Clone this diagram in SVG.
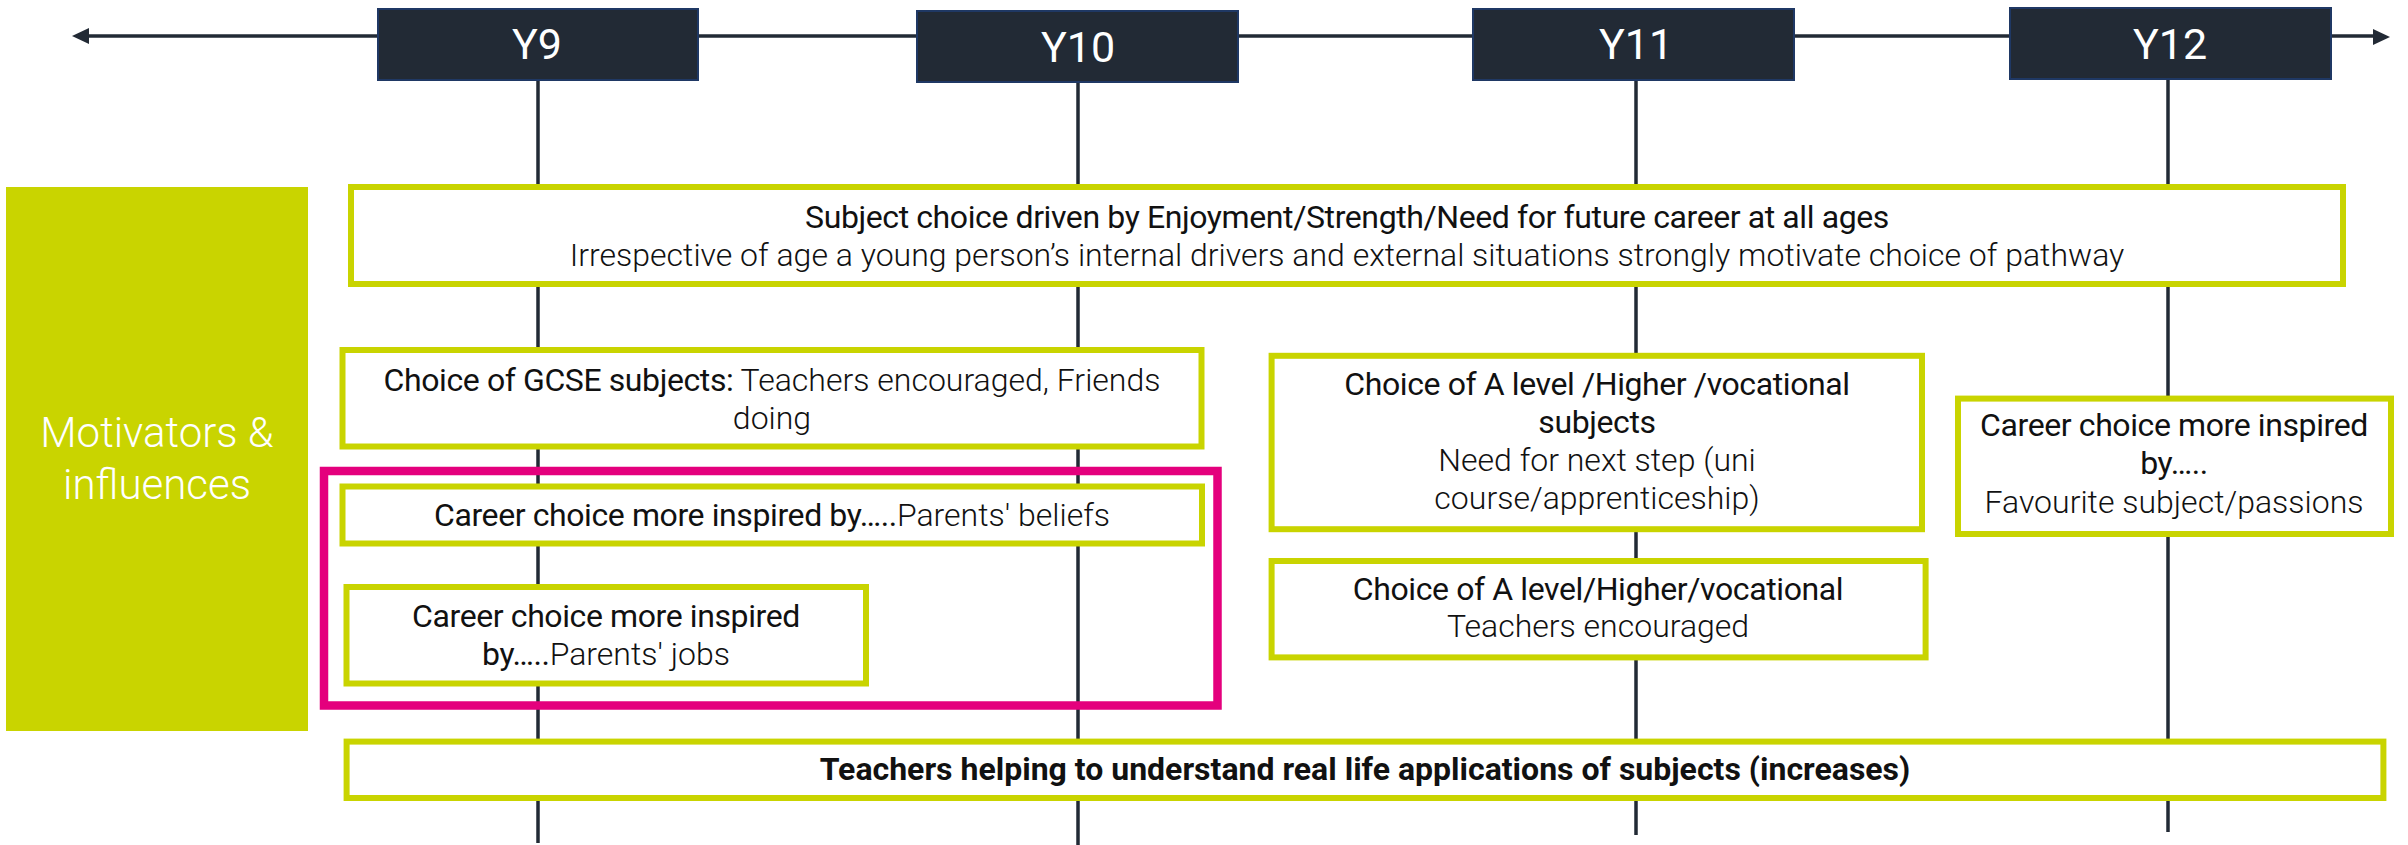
<svg xmlns="http://www.w3.org/2000/svg" width="2408" height="845" viewBox="0 0 2408 845">
<style>
.bg{fill:#ffffff}
.tl{stroke:#222a35;stroke-width:3.5;fill:none}
.yr{fill:#222a35;stroke:#1f3864;stroke-width:2}
.yt{font-family:Roboto,"Liberation Sans",sans-serif;font-size:43px;fill:#ffffff;text-anchor:middle}
.gb{fill:#ffffff;stroke:#c9d400;stroke-width:6}
.pk{fill:none;stroke:#e4007d;stroke-width:8.5}
.t{font-family:Roboto,"Liberation Sans",sans-serif;font-size:32px;fill:#111111;text-anchor:middle}
.r{font-weight:400;letter-spacing:-0.4px}
.l{font-weight:300}
.b{font-weight:700}
.mt{font-family:Roboto,"Liberation Sans",sans-serif;font-size:42px;font-weight:300;fill:#ffffff;text-anchor:middle}
</style>
<rect class="bg" x="0" y="0" width="2408" height="845"/>
<g id="connectors">
<line class="tl" x1="86" y1="36" x2="2376" y2="36"/>
<polygon points="72,36 89,28 89,44" fill="#222a35"/>
<polygon points="2390,37 2373,29 2373,45" fill="#222a35"/>
<line class="tl" x1="538" y1="80" x2="538" y2="843"/>
<line class="tl" x1="1078" y1="80" x2="1078" y2="845"/>
<line class="tl" x1="1636" y1="80" x2="1636" y2="835"/>
<line class="tl" x1="2168" y1="80" x2="2168" y2="832"/>
</g>
<g id="y9"><rect class="yr" x="378" y="9" width="320" height="71"/><text class="yt" x="537" y="59">Y9</text></g>
<g id="y10"><rect class="yr" x="917" y="11" width="321" height="71"/><text class="yt" x="1078" y="62">Y10</text></g>
<g id="y11"><rect class="yr" x="1473" y="9" width="321" height="71"/><text class="yt" x="1636" y="59">Y11</text></g>
<g id="y12"><rect class="yr" x="2010" y="8" width="321" height="71"/><text class="yt" x="2170" y="59">Y12</text></g>
<g id="motivators"><rect x="6" y="187" width="302" height="544" fill="#c9d400"/>
<text class="mt" x="157" y="447">Motivators &amp;</text><text class="mt" x="157" y="499">influences</text></g>
<g id="subject-choice"><rect class="gb" x="351" y="187" width="1992" height="97"/>
<text class="t r" x="1347" y="228">Subject choice driven by Enjoyment/Strength/Need for future career at all ages</text>
<text class="t l" x="1347" y="266">Irrespective of age a young person’s internal drivers and external situations strongly motivate choice of pathway</text></g>
<g id="gcse"><rect class="gb" x="342.5" y="350" width="859" height="96.5"/>
<text class="t" x="772" y="391"><tspan class="r">Choice of GCSE subjects:</tspan><tspan class="l"> Teachers encouraged, Friends</tspan></text>
<text class="t l" x="772" y="429">doing</text></g>
<g id="parents-group"><rect class="pk" x="324" y="471" width="893.5" height="234.5"/></g>
<g id="parents-beliefs"><rect class="gb" x="342.5" y="486.5" width="859.5" height="57"/>
<text class="t" x="772" y="526"><tspan class="r">Career choice more inspired by…..</tspan><tspan class="l">Parents' beliefs</tspan></text></g>
<g id="parents-jobs"><rect class="gb" x="346.5" y="587" width="519.5" height="96.5"/>
<text class="t r" x="606" y="627">Career choice more inspired</text>
<text class="t" x="606" y="665"><tspan class="r">by…..</tspan><tspan class="l">Parents' jobs</tspan></text></g>
<g id="alevel-next"><rect class="gb" x="1271.6" y="355.8" width="650.4" height="173.4"/>
<text class="t r" x="1597" y="395">Choice of A level /Higher /vocational</text>
<text class="t r" x="1597" y="433">subjects</text>
<text class="t l" x="1597" y="471">Need for next step (uni</text>
<text class="t l" x="1597" y="509">course/apprenticeship)</text></g>
<g id="alevel-teachers"><rect class="gb" x="1271.6" y="561" width="654" height="96.4"/>
<text class="t r" x="1598" y="600">Choice of A level/Higher/vocational</text>
<text class="t l" x="1598" y="637">Teachers encouraged</text></g>
<g id="y12-career"><rect class="gb" x="1958" y="398.6" width="433" height="135.4"/>
<text class="t r" x="2174" y="436">Career choice more inspired</text>
<text class="t r" x="2174" y="474">by…..</text>
<text class="t l" x="2174" y="513">Favourite subject/passions</text></g>
<g id="teachers-real-life"><rect class="gb" x="346.6" y="741.6" width="2036.8" height="56.4"/>
<text class="t b" x="1365" y="780">Teachers helping to understand real life applications of subjects (increases)</text></g>
</svg>
